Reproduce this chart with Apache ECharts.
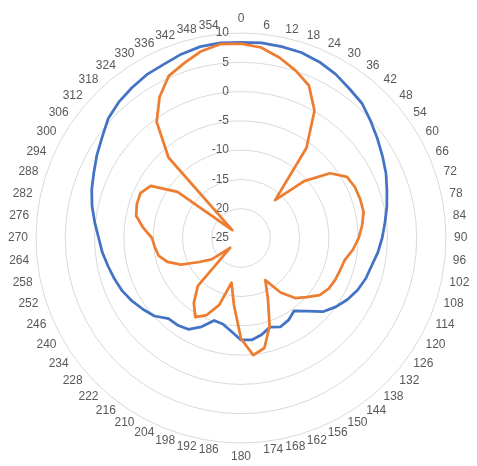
<!DOCTYPE html>
<html>
<head>
<meta charset="utf-8">
<script src="https://cdn.jsdelivr.net/npm/echarts@6/dist/echarts.min.js"></script>
<style>
  html, body { margin: 0; padding: 0; background: #fff; }
  #chart { width: 477px; height: 466px; }
</style>
</head>
<body>
<div id="chart"></div>
<script>
// angles in degrees, 0..354 step 6
const angles = [
  0, 6, 12, 18, 24, 30, 36, 42, 48, 54, 60, 66, 72, 78, 84, 90, 96, 102, 108, 114,
  120, 126, 132, 138, 144, 150, 156, 162, 168, 174, 180, 186, 192, 198, 204, 210, 216, 222, 228, 234,
  240, 246, 252, 258, 264, 270, 276, 282, 288, 294, 300, 306, 312, 318, 324, 330, 336, 342, 348, 354
]

// blue trace
const blueValues = [
  8.4, 8.5, 8.4, 8.3, 7.9, 7.3, 6.5, 5.9, 4.8, 3.8, 2.9, 2.1, 1.2, 0.45, -0.3, -0.9, -1.5, -2.2, -2.6, -3.2,
  -4.0, -5.0, -6.2, -8.2, -9.6, -8.8, -8.4, -9.0, -8.1, -7.5, -7.6, -9.0, -10.0, -10.2, -8.4, -7.0, -6.6, -6.5, -5.1, -4.3,
  -3.5, -2.8, -2.3, -1.8, -1.2, -0.7, 0.1, 1.0, 1.8, 2.5, 3.4, 4.3, 5.5, 6.2, 6.7, 7.2, 7.45, 8.0, 8.4, 8.5
]

// orange trace
const orangeValues = [
  8.2, 7.7, 6.5, 5.1, 3.5, 0.1, -6.0, -16.3, -10.5, -6.2, -4.1, -3.7, -3.6, -3.6, -4.2, -4.9, -5.8, -6.9, -7.2, -7.4,
  -7.7, -8.4, -9.9, -11.2, -13.5, -16.7, -13.7, -9.2, -5.8, -4.9, -7.8, -13.5, -17.2, -13.0, -10.6, -9.4, -11.3, -14.0, -22.5, -18.8,
  -16.8, -13.8, -11.8, -10.6, -10.2, -9.8, -8.2, -6.7, -6.3, -6.2, -7.2, -11.6, -23.0, -6.5, -0.5, 2.8, 5.3, 6.4, 7.6, 8.3
]

const radialMin = -25
const radialMax = 10

// echarts radar runs counter-clockwise, so walk the categories backwards
const order = angles.map((a, i) => (angles.length - i) % angles.length)

const chart = echarts.init(document.getElementById('chart'))

const indicator = order.map((idx, i) => {
  const item = { name: String(angles[idx]), min: radialMin, max: radialMax }
  if (i === 0) {
    item.axisLabel = { show: true } // only the top axis carries the value labels
  }
  return item
})

const option = {
  animation: false,
  textStyle: { fontFamily: 'Liberation Sans' },
  radar: {
    center: [241, 238],
    radius: 205,
    startAngle: 90,
    shape: 'circle',
    splitNumber: 7,
    indicator: indicator,
    nameGap: 8,
    axisName: {
      color: '#595959',
      fontSize: 12,
      fontFamily: 'Liberation Sans'
    },
    axisLine: { show: false },
    axisTick: { show: false },
    axisLabel: {
      show: false,
      color: '#595959',
      fontSize: 12,
      margin: 12,
      fontFamily: 'Liberation Sans'
    },
    splitLine: { lineStyle: { color: '#d9d9d9', width: 1 } },
    splitArea: { show: false }
  },
  series: [
    {
      type: 'radar',
      symbol: 'none',
      data: [
        {
          name: 'blue',
          value: order.map((idx) => blueValues[idx]),
          lineStyle: { color: '#4472C4', width: 2.75, join: 'round', cap: 'round' }
        },
        {
          name: 'orange',
          value: order.map((idx) => orangeValues[idx]),
          lineStyle: { color: '#ED7D31', width: 2.75, join: 'round', cap: 'round' }
        }
      ]
    }
  ]
}

chart.setOption(option)
</script>
</body>
</html>
